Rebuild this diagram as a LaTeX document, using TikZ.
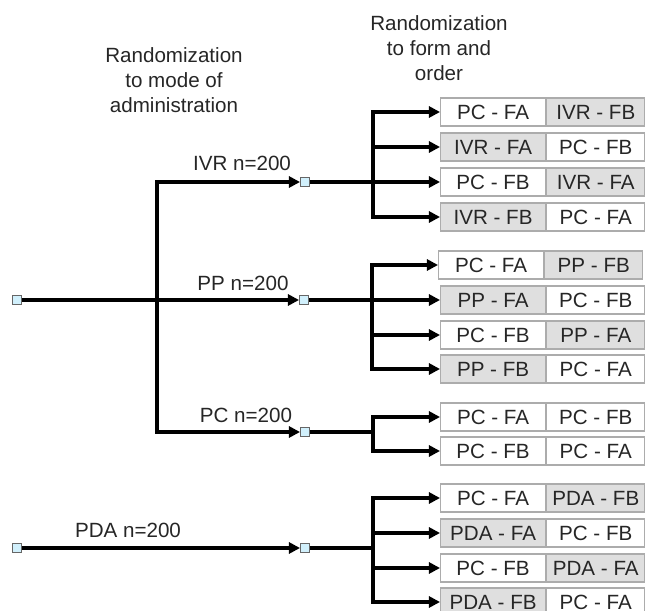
\documentclass[tikz,border=0pt]{standalone}
\usepackage{fontspec}
\setmainfont{Liberation Sans}
\usetikzlibrary{positioning,arrows.meta}

\begin{document}
\begin{tikzpicture}[
  x=0.5pt, y=-0.5pt,
  node distance=0pt,
  txt/.style={font=\fontsize{10.3}{12.5}\selectfont, text=black!85},
  hdr/.style={txt, align=center},
  cell/.style={txt, draw=gray!65, line width=0.6pt, fill=white,
               minimum width=52.5pt, minimum height=14pt, inner sep=0pt},
  cellb/.style={cell, minimum width=49pt},
  shade/.style={fill=gray!25},
  sq/.style={draw=gray!80!black, line width=0.5pt, fill=cyan!18,
             minimum size=4.5pt, inner sep=0pt},
  thk/.style={line width=2pt},
  arr/.style={thk, -{Triangle[length=5.5pt, width=5.5pt]}}
]
  \useasboundingbox (0,0) rectangle (645,611);

  % Headers
  \node[hdr] (hdrmode) at (174,80) {Randomization\\to mode of\\administration};
  \node[hdr] (hdrform) at (439,48) {Randomization\\to form and\\order};

  % Mode of administration
  \node[sq] (root) at (17,300) {};
  \coordinate (hub) at (157,300);
  \node[sq] (sqI) at (305,182) {};
  \node[sq] (sqP) at (304,300) {};
  \node[sq] (sqC) at (305,432) {};
  \node[sq] (rootD) at (17,548) {};
  \node[sq] (sqD) at (305,548) {};

  \draw[thk] (root) -- (hub);
  \draw[arr] (hub) |- (sqI);
  \draw[arr] (hub) -- (sqP);
  \draw[arr] (hub) |- (sqC);
  \draw[arr] (rootD) -- (sqD);

  \node[txt] (lblI) at (242,163) {IVR n=200};
  \node[txt] (lblP) at (243,283) {PP n=200};
  \node[txt] (lblC) at (246,415) {PC n=200};
  \node[txt] (lblD) at (128,530) {PDA n=200};

  % IVR forms
  \node[cell, anchor=west] (i1a) at (440,112) {PC - FA};
  \node[cellb, shade, right=of i1a] (i1b) {IVR - FB};
  \node[cell, shade, anchor=west] (i2a) at (440,147) {IVR - FA};
  \node[cellb, right=of i2a] (i2b) {PC - FB};
  \node[cell, anchor=west] (i3a) at (440,182) {PC - FB};
  \node[cellb, shade, right=of i3a] (i3b) {IVR - FA};
  \node[cell, shade, anchor=west] (i4a) at (440,217) {IVR - FB};
  \node[cellb, right=of i4a] (i4b) {PC - FA};

  % PP forms
  \node[cell, anchor=west] (p1a) at (438,265) {PC - FA};
  \node[cellb, shade, right=of p1a] (p1b) {PP - FB};
  \node[cell, shade, anchor=west] (p2a) at (440,300) {PP - FA};
  \node[cellb, right=of p2a] (p2b) {PC - FB};
  \node[cell, anchor=west] (p3a) at (440,335) {PC - FB};
  \node[cellb, shade, right=of p3a] (p3b) {PP - FA};
  \node[cell, shade, anchor=west] (p4a) at (440,369) {PP - FB};
  \node[cellb, right=of p4a] (p4b) {PC - FA};

  % PC forms
  \node[cell, anchor=west] (c1a) at (440,417) {PC - FA};
  \node[cellb, right=of c1a] (c1b) {PC - FB};
  \node[cell, anchor=west] (c2a) at (440,451) {PC - FB};
  \node[cellb, right=of c2a] (c2b) {PC - FA};

  % PDA forms
  \node[cell, anchor=west] (d1a) at (440,498) {PC - FA};
  \node[cellb, shade, right=of d1a] (d1b) {PDA - FB};
  \node[cell, shade, anchor=west] (d2a) at (440,533) {PDA - FA};
  \node[cellb, right=of d2a] (d2b) {PC - FB};
  \node[cell, anchor=west] (d3a) at (440,568) {PC - FB};
  \node[cellb, shade, right=of d3a] (d3b) {PDA - FA};
  \node[cell, shade, anchor=west] (d4a) at (440,602) {PDA - FB};
  \node[cellb, right=of d4a] (d4b) {PC - FA};

  % Branches to forms
  \coordinate (brI) at (373,182);
  \coordinate (brP) at (372,300);
  \coordinate (brC) at (373,432);
  \coordinate (brD) at (373,548);

  \draw[thk] (sqI) -- (brI);
  \draw[arr] (brI) |- (i1a.west);
  \draw[arr] (brI) |- (i2a.west);
  \draw[arr] (brI) -- (i3a.west);
  \draw[arr] (brI) |- (i4a.west);

  \draw[thk] (sqP) -- (brP);
  \draw[arr] (brP) |- (p1a.west);
  \draw[arr] (brP) -- (p2a.west);
  \draw[arr] (brP) |- (p3a.west);
  \draw[arr] (brP) |- (p4a.west);

  \draw[thk] (sqC) -- (brC);
  \draw[arr] (brC) |- (c1a.west);
  \draw[arr] (brC) |- (c2a.west);

  \draw[thk] (sqD) -- (brD);
  \draw[arr] (brD) |- (d1a.west);
  \draw[arr] (brD) |- (d2a.west);
  \draw[arr] (brD) |- (d3a.west);
  \draw[arr] (brD) |- (d4a.west);
\end{tikzpicture}
\end{document}
